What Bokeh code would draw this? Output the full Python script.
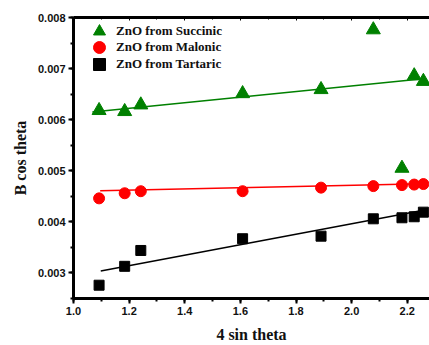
from bokeh.plotting import figure
from bokeh.models import (Range1d, LinearAxis, SingleIntervalTicker, PrintfTickFormatter,
                          Legend, LegendItem)
from bokeh.embed import file_html
from bokeh.resources import INLINE

# data
x_vals = [1.092, 1.184, 1.242, 1.608, 1.890, 2.078, 2.181, 2.225, 2.258]
succinic = [0.00618, 0.00616, 0.00629, 0.00651, 0.00659, 0.00776, 0.00505, 0.00686, 0.00675]
malonic = [0.00446, 0.00456, 0.00460, 0.00460, 0.00467, 0.00470, 0.00472, 0.00473, 0.00474]
tartaric = [0.00276, 0.00313, 0.00344, 0.00367, 0.00372, 0.00406, 0.00408, 0.00410, 0.00419]

# linear fits (endpoints)
fit_succ_x = [1.068, 2.258]
fit_succ_y = [0.00615, 0.00680]
fit_mal_x = [1.096, 2.258]
fit_mal_y = [0.00461, 0.004748]
fit_tar_x = [1.098, 2.258]
fit_tar_y = [0.003037, 0.004226]

labels = ["ZnO from Succinic", "ZnO from Malonic", "ZnO from Tartaric"]

FRAME_H = 345 - 17 - 46

p = figure(width=429, height=345, output_backend="svg", toolbar_location=None,
           x_range=Range1d(1.0, 2.28), y_range=Range1d(0.0025, 0.008),
           x_axis_label="4 sin theta", y_axis_label="B cos theta",
           min_border_left=73, min_border_right=0, min_border_top=17, min_border_bottom=46)
p.grid.visible = False
p.outline_line_color = None
p.background_fill_color = "white"

p.xaxis.ticker = SingleIntervalTicker(interval=0.2, num_minor_ticks=2)
p.yaxis.ticker = SingleIntervalTicker(interval=0.001, num_minor_ticks=2)
p.xaxis.formatter = PrintfTickFormatter(format="%.1f")
p.yaxis.formatter = PrintfTickFormatter(format="%.3f")

for ax in (p.xaxis[0], p.yaxis[0]):
    ax.axis_line_width = 3
    ax.major_tick_line_width = 2
    ax.minor_tick_line_width = 2
    ax.major_tick_out = 5
    ax.major_tick_in = 0
    ax.minor_tick_out = 3
    ax.minor_tick_in = 0
    ax.major_label_text_font = "Liberation Sans"
    ax.major_label_text_font_style = "bold"
    ax.major_label_text_font_size = "11px"
    ax.major_label_text_color = "#111111"
    ax.axis_label_text_font = "Liberation Serif"
    ax.axis_label_text_font_style = "bold"
    ax.axis_label_text_font_size = "16px"
    ax.axis_label_text_color = "#111111"
    ax.major_label_standoff = 3
p.xaxis.axis_label_standoff = 8
p.yaxis.axis_label_standoff = 6

top = LinearAxis(ticker=SingleIntervalTicker(interval=0.2, num_minor_ticks=2),
                 axis_line_width=3, major_tick_in=3, major_tick_out=0,
                 minor_tick_in=2, minor_tick_out=0,
                 major_label_text_font_size="0px", major_label_standoff=0)
top.formatter = PrintfTickFormatter(format=" ")
p.add_layout(top, "above")

# fit lines
p.line(fit_succ_x, fit_succ_y, line_color="#008000", line_width=1.5)
p.line(fit_mal_x, fit_mal_y, line_color="#ff0000", line_width=1.5)
p.line(fit_tar_x, fit_tar_y, line_color="black", line_width=1.5)

r1 = p.scatter(x_vals, succinic, marker="triangle", size=14, color="#008000")
r2 = p.scatter(x_vals, malonic, marker="circle", size=11, color="#ff0000")
r3 = p.scatter(x_vals, tartaric, marker="square", size=10, color="black")

row_centers = [15.3, 31.3, 48.3]
for lab, rend, c in zip(labels, [r1, r2, r3], row_centers):
    lg = Legend(items=[LegendItem(label=lab, renderers=[rend])],
                location=(11, FRAME_H - c - 15), padding=0, margin=0,
                glyph_width=30, glyph_height=30, label_height=16,
                spacing=0, label_standoff=2,
                label_text_font="Liberation Serif", label_text_font_style="bold",
                label_text_font_size="13px", label_text_color="#111111",
                background_fill_alpha=0, border_line_color=None)
    p.add_layout(lg)

open("out.html", "w").write(file_html(p, INLINE))
